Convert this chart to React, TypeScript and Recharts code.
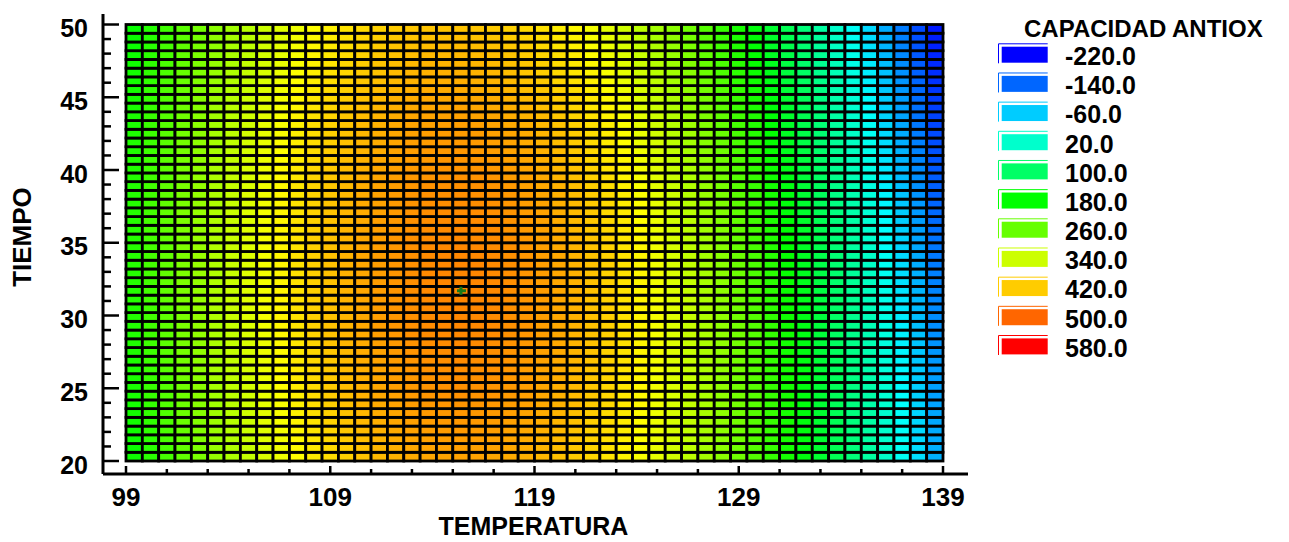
import { Legend, Scatter, ScatterChart, XAxis, YAxis } from 'recharts';

// Centros de las celdas (temperatura en columnas, tiempo en filas)
const temperatura = [
  99.4, 100.2, 101.0, 101.8, 102.6, 103.4, 104.2, 105.0, 105.8, 106.6,
  107.4, 108.2, 109.0, 109.8, 110.6, 111.4, 112.2, 113.0, 113.8, 114.6,
  115.4, 116.2, 117.0, 117.8, 118.6, 119.4, 120.2, 121.0, 121.8, 122.6,
  123.4, 124.2, 125.0, 125.8, 126.6, 127.4, 128.2, 129.0, 129.8, 130.6,
  131.4, 132.2, 133.0, 133.8, 134.6, 135.4, 136.2, 137.0, 137.8, 138.6,
];

const tiempo = [
  20.3, 20.9, 21.5, 22.1, 22.7, 23.3, 23.9, 24.5, 25.1, 25.7,
  26.3, 26.9, 27.5, 28.1, 28.7, 29.3, 29.9, 30.5, 31.1, 31.7,
  32.3, 32.9, 33.5, 34.1, 34.7, 35.3, 35.9, 36.5, 37.1, 37.7,
  38.3, 38.9, 39.5, 40.1, 40.7, 41.3, 41.9, 42.5, 43.1, 43.7,
  44.3, 44.9, 45.5, 46.1, 46.7, 47.3, 47.9, 48.5, 49.1, 49.7,
];

const capacidad: number[][] = [
  [190, 212, 234, 255, 276, 296, 315, 333, 350, 366, 381, 395, 407, 418, 427, 435, 441, 446, 450, 452, 453, 452, 449, 446, 442, 436, 429, 421, 411, 400, 388, 375, 360, 344, 327, 308, 288, 267, 245, 221, 196, 170, 143, 115, 85, 54, 22, -11, -46, -82],
  [188, 212, 235, 257, 278, 298, 317, 335, 352, 368, 383, 397, 409, 420, 429, 437, 443, 448, 452, 454, 455, 454, 452, 448, 444, 438, 431, 423, 413, 402, 390, 377, 362, 345, 328, 309, 289, 268, 246, 222, 196, 170, 143, 115, 84, 53, 21, -12, -47, -83],
  [190, 214, 237, 259, 280, 300, 319, 337, 354, 370, 385, 399, 411, 422, 431, 439, 445, 450, 454, 456, 457, 456, 454, 450, 446, 440, 433, 425, 415, 404, 392, 378, 363, 347, 330, 310, 290, 269, 246, 222, 197, 170, 143, 114, 84, 52, 20, -13, -49, -85],
  [192, 216, 239, 261, 282, 302, 321, 339, 356, 372, 387, 401, 413, 424, 433, 441, 447, 452, 456, 458, 459, 458, 456, 452, 448, 442, 435, 427, 417, 406, 393, 380, 364, 348, 331, 311, 291, 269, 247, 222, 197, 170, 143, 114, 83, 52, 19, -15, -50, -86],
  [193, 217, 240, 262, 283, 303, 322, 340, 357, 373, 388, 402, 415, 426, 435, 443, 449, 454, 458, 460, 461, 460, 458, 454, 450, 444, 437, 429, 418, 407, 395, 381, 366, 349, 332, 312, 292, 270, 247, 222, 197, 170, 142, 113, 82, 51, 18, -16, -51, -88],
  [195, 219, 242, 264, 285, 305, 324, 342, 359, 375, 390, 404, 416, 427, 436, 444, 450, 455, 459, 461, 462, 461, 459, 455, 452, 446, 439, 430, 420, 409, 396, 382, 367, 350, 333, 313, 292, 270, 247, 222, 197, 170, 142, 113, 82, 50, 17, -17, -53, -90],
  [196, 220, 243, 265, 286, 306, 325, 343, 360, 376, 391, 405, 418, 429, 438, 446, 452, 457, 461, 463, 464, 463, 461, 457, 453, 447, 440, 432, 421, 410, 397, 384, 368, 351, 333, 314, 293, 271, 248, 222, 197, 170, 141, 112, 81, 49, 16, -19, -54, -91],
  [198, 222, 245, 267, 288, 308, 327, 345, 362, 378, 393, 407, 420, 431, 440, 448, 454, 459, 463, 465, 466, 465, 463, 459, 455, 449, 441, 433, 423, 411, 398, 385, 369, 352, 334, 314, 293, 271, 248, 222, 197, 169, 141, 111, 80, 48, 14, -20, -56, -93],
  [199, 223, 246, 268, 289, 309, 328, 346, 363, 379, 394, 408, 421, 432, 441, 449, 455, 460, 464, 466, 467, 466, 464, 460, 456, 450, 443, 434, 424, 412, 399, 385, 370, 353, 335, 315, 294, 271, 248, 222, 196, 169, 140, 110, 79, 46, 13, -22, -58, -94],
  [200, 224, 247, 269, 290, 310, 329, 347, 364, 380, 395, 409, 422, 433, 442, 450, 456, 461, 465, 467, 468, 467, 465, 461, 457, 451, 444, 435, 425, 413, 400, 386, 370, 353, 335, 315, 294, 271, 248, 222, 196, 168, 140, 109, 78, 45, 12, -23, -59, -96],
  [201, 225, 248, 270, 291, 311, 330, 348, 365, 381, 396, 410, 423, 434, 443, 451, 457, 462, 466, 468, 469, 468, 466, 462, 458, 452, 445, 436, 426, 414, 401, 387, 371, 354, 335, 315, 294, 271, 247, 222, 196, 168, 139, 109, 77, 44, 10, -25, -61, -98],
  [202, 226, 249, 271, 292, 312, 331, 349, 366, 382, 397, 411, 424, 435, 444, 452, 458, 463, 467, 469, 470, 469, 467, 463, 459, 453, 446, 437, 427, 415, 402, 387, 371, 354, 336, 315, 294, 271, 247, 221, 195, 167, 138, 108, 76, 43, 9, -26, -63, -100],
  [203, 227, 250, 272, 293, 313, 332, 350, 367, 383, 398, 412, 425, 436, 445, 453, 459, 464, 468, 470, 471, 470, 468, 464, 460, 454, 447, 438, 427, 416, 402, 388, 372, 354, 336, 315, 294, 271, 247, 221, 194, 166, 137, 106, 74, 41, 7, -28, -64, -102],
  [204, 228, 251, 273, 294, 314, 333, 351, 368, 384, 399, 413, 426, 437, 446, 454, 460, 465, 469, 471, 472, 471, 469, 465, 461, 455, 447, 439, 428, 416, 403, 388, 372, 354, 336, 315, 294, 271, 246, 220, 194, 166, 136, 105, 73, 40, 6, -30, -66, -104],
  [205, 229, 252, 274, 295, 315, 334, 352, 369, 385, 400, 414, 427, 438, 447, 455, 461, 466, 470, 472, 473, 472, 470, 466, 462, 456, 448, 439, 428, 417, 403, 389, 372, 354, 336, 315, 294, 270, 246, 220, 193, 165, 135, 104, 72, 38, 4, -31, -68, -106],
  [206, 230, 253, 275, 296, 316, 335, 353, 370, 386, 401, 415, 428, 439, 448, 456, 462, 467, 471, 473, 474, 473, 471, 467, 462, 456, 448, 440, 429, 417, 403, 389, 372, 354, 336, 315, 293, 270, 245, 219, 192, 164, 134, 103, 70, 37, 2, -33, -70, -108],
  [207, 231, 254, 276, 297, 317, 336, 354, 371, 387, 402, 416, 428, 439, 448, 456, 462, 467, 471, 473, 474, 473, 471, 467, 462, 457, 449, 440, 429, 417, 403, 389, 372, 354, 335, 315, 293, 269, 245, 218, 191, 163, 133, 101, 69, 35, 1, -35, -72, -110],
  [207, 231, 254, 276, 297, 317, 336, 354, 371, 387, 402, 416, 429, 440, 449, 457, 463, 468, 472, 474, 475, 474, 472, 468, 463, 457, 449, 440, 429, 417, 403, 389, 372, 354, 335, 314, 292, 269, 244, 217, 190, 162, 132, 100, 67, 34, -1, -37, -74, -112],
  [208, 232, 255, 277, 298, 318, 337, 355, 372, 388, 403, 417, 429, 440, 449, 457, 463, 468, 472, 474, 475, 474, 472, 468, 463, 457, 449, 440, 429, 417, 403, 388, 371, 354, 335, 314, 292, 268, 243, 216, 189, 160, 131, 99, 66, 32, -3, -39, -76, -114],
  [208, 232, 255, 277, 298, 318, 337, 355, 372, 388, 403, 417, 429, 440, 449, 457, 463, 468, 472, 474, 475, 474, 472, 468, 463, 457, 449, 440, 429, 417, 403, 388, 371, 353, 334, 313, 291, 267, 242, 215, 188, 159, 129, 97, 64, 30, -5, -41, -78, -116],
  [208, 232, 255, 277, 298, 318, 337, 355, 372, 388, 403, 417, 429, 440, 449, 457, 463, 468, 472, 474, 475, 474, 472, 468, 463, 457, 449, 440, 429, 417, 403, 388, 370, 352, 333, 312, 290, 266, 241, 214, 187, 158, 128, 95, 62, 28, -7, -43, -80, -118],
  [209, 233, 256, 278, 299, 319, 337, 355, 372, 388, 403, 417, 429, 440, 449, 457, 463, 468, 472, 474, 475, 474, 472, 468, 463, 457, 449, 440, 428, 416, 402, 387, 370, 352, 333, 311, 289, 265, 240, 213, 185, 156, 126, 94, 60, 26, -9, -45, -82, -120],
  [209, 233, 256, 278, 299, 319, 338, 355, 372, 388, 403, 417, 429, 440, 449, 457, 463, 468, 472, 474, 475, 474, 472, 468, 462, 456, 448, 439, 428, 416, 402, 386, 369, 351, 332, 310, 288, 264, 239, 211, 184, 155, 124, 92, 59, 24, -11, -47, -85, -123],
  [209, 233, 256, 278, 299, 319, 338, 355, 372, 388, 403, 417, 429, 440, 449, 457, 463, 468, 472, 474, 474, 473, 471, 467, 462, 456, 448, 439, 427, 415, 401, 386, 368, 350, 331, 309, 287, 263, 237, 210, 183, 153, 123, 90, 57, 22, -13, -49, -87, -125],
  [209, 233, 256, 278, 299, 319, 337, 355, 372, 388, 403, 417, 429, 440, 449, 456, 462, 467, 471, 473, 474, 473, 471, 467, 461, 455, 447, 438, 427, 414, 400, 385, 367, 349, 330, 308, 286, 261, 236, 208, 181, 151, 121, 88, 55, 20, -15, -52, -89, -127],
  [209, 233, 256, 278, 299, 318, 337, 355, 372, 388, 403, 417, 428, 439, 448, 456, 462, 467, 471, 473, 473, 472, 470, 466, 461, 455, 446, 437, 426, 414, 399, 384, 366, 348, 328, 307, 284, 260, 234, 207, 179, 150, 119, 86, 53, 18, -17, -54, -91, -130],
  [209, 233, 256, 277, 298, 318, 337, 355, 372, 388, 402, 416, 428, 439, 448, 456, 461, 466, 470, 472, 473, 472, 470, 465, 460, 454, 446, 436, 425, 413, 398, 383, 365, 347, 327, 306, 283, 258, 233, 205, 178, 148, 117, 84, 51, 16, -20, -56, -94, -132],
  [209, 233, 255, 277, 298, 318, 337, 354, 371, 387, 402, 416, 428, 438, 447, 455, 461, 466, 469, 471, 472, 471, 469, 465, 459, 453, 445, 435, 424, 411, 397, 381, 364, 345, 326, 304, 282, 257, 231, 203, 176, 146, 115, 82, 49, 14, -22, -59, -96, -135],
  [208, 232, 255, 277, 298, 317, 336, 354, 371, 387, 401, 415, 427, 438, 446, 454, 460, 465, 469, 470, 471, 470, 468, 464, 458, 452, 444, 434, 423, 410, 396, 380, 362, 344, 324, 303, 280, 255, 229, 201, 174, 144, 113, 80, 46, 12, -24, -61, -99, -137],
  [208, 232, 255, 276, 297, 317, 336, 353, 370, 386, 401, 414, 426, 437, 446, 453, 459, 464, 468, 469, 470, 469, 467, 462, 457, 451, 442, 433, 421, 409, 394, 379, 361, 342, 323, 301, 278, 253, 227, 200, 172, 142, 111, 78, 44, 9, -27, -64, -101, -140],
  [208, 231, 254, 276, 297, 316, 335, 353, 369, 385, 400, 414, 425, 436, 445, 453, 458, 463, 467, 468, 469, 468, 466, 461, 456, 449, 441, 431, 420, 407, 393, 377, 359, 341, 321, 299, 276, 251, 225, 197, 170, 140, 109, 76, 42, 7, -29, -66, -104, -143],
  [207, 231, 254, 275, 296, 316, 334, 352, 369, 384, 399, 413, 424, 435, 444, 451, 457, 462, 466, 467, 468, 467, 464, 460, 454, 448, 440, 430, 418, 406, 391, 375, 358, 339, 319, 297, 274, 249, 223, 195, 168, 138, 107, 73, 39, 4, -32, -69, -107, -145],
  [207, 230, 253, 275, 295, 315, 334, 351, 368, 383, 398, 412, 423, 434, 443, 450, 456, 461, 464, 466, 467, 465, 463, 458, 453, 447, 438, 428, 417, 404, 389, 374, 356, 337, 317, 295, 272, 247, 221, 193, 165, 135, 104, 71, 37, 2, -34, -71, -109, -148],
  [206, 230, 252, 274, 294, 314, 333, 350, 367, 382, 397, 411, 422, 433, 441, 449, 455, 459, 463, 465, 465, 464, 461, 457, 451, 445, 436, 427, 415, 402, 388, 372, 354, 335, 315, 293, 270, 245, 219, 191, 163, 133, 102, 68, 34, -1, -37, -74, -112, -151],
  [205, 229, 251, 273, 293, 313, 332, 349, 366, 381, 396, 409, 421, 432, 440, 448, 453, 458, 461, 463, 464, 462, 460, 455, 450, 443, 434, 425, 413, 400, 386, 370, 352, 333, 313, 291, 268, 243, 217, 189, 161, 131, 99, 66, 32, -3, -40, -77, -115, -154],
  [204, 228, 250, 272, 292, 312, 331, 348, 365, 380, 395, 408, 420, 430, 439, 446, 452, 456, 460, 461, 462, 460, 458, 453, 448, 441, 433, 423, 411, 398, 383, 368, 350, 331, 311, 289, 266, 241, 214, 186, 158, 128, 97, 63, 29, -6, -42, -79, -117, -156],
  [204, 227, 249, 271, 291, 311, 329, 347, 363, 379, 393, 407, 418, 429, 437, 445, 450, 455, 458, 460, 460, 459, 456, 452, 446, 439, 431, 421, 409, 396, 381, 365, 347, 328, 308, 286, 263, 238, 212, 184, 156, 125, 94, 61, 26, -9, -45, -82, -120, -159],
  [203, 226, 248, 270, 290, 310, 328, 346, 362, 377, 392, 405, 417, 427, 436, 443, 448, 453, 456, 458, 458, 457, 454, 450, 444, 437, 428, 419, 407, 394, 379, 363, 345, 326, 306, 284, 261, 236, 209, 181, 153, 123, 91, 58, 24, -12, -48, -85, -123, -162],
  [201, 225, 247, 269, 289, 308, 327, 344, 361, 376, 390, 404, 415, 426, 434, 441, 447, 451, 454, 456, 456, 455, 452, 447, 442, 435, 426, 416, 404, 392, 377, 360, 342, 323, 303, 281, 258, 233, 207, 178, 150, 120, 89, 55, 21, -14, -51, -88, -126, -165],
  [200, 224, 246, 267, 288, 307, 325, 343, 359, 374, 389, 402, 413, 424, 432, 439, 445, 449, 452, 454, 454, 452, 450, 445, 439, 433, 424, 414, 402, 389, 374, 358, 340, 321, 301, 279, 255, 230, 204, 176, 147, 117, 86, 52, 18, -17, -54, -91, -129, -168],
  [199, 222, 245, 266, 286, 306, 324, 341, 357, 373, 387, 400, 412, 422, 430, 437, 443, 447, 450, 452, 452, 450, 447, 443, 437, 430, 421, 411, 399, 386, 371, 355, 337, 318, 298, 276, 253, 227, 201, 173, 145, 114, 83, 49, 15, -20, -57, -94, -132, -171],
  [198, 221, 243, 265, 285, 304, 322, 339, 356, 371, 385, 398, 410, 420, 428, 435, 441, 445, 448, 449, 450, 448, 445, 440, 434, 428, 419, 409, 397, 384, 369, 352, 334, 315, 295, 273, 250, 224, 198, 170, 142, 111, 80, 46, 12, -23, -60, -97, -135, -174],
  [196, 220, 242, 263, 283, 302, 321, 338, 354, 369, 383, 396, 408, 418, 426, 433, 438, 443, 446, 447, 447, 445, 442, 438, 432, 425, 416, 406, 394, 381, 366, 350, 331, 312, 292, 270, 247, 221, 195, 167, 138, 108, 77, 43, 9, -26, -63, -100, -138, -177],
  [195, 218, 240, 261, 282, 301, 319, 336, 352, 367, 381, 394, 406, 416, 424, 431, 436, 440, 443, 444, 444, 443, 440, 435, 429, 422, 413, 403, 391, 378, 363, 346, 328, 309, 289, 267, 244, 218, 192, 164, 135, 105, 74, 40, 6, -30, -66, -103, -141, -181],
  [194, 217, 239, 260, 280, 299, 317, 334, 350, 365, 379, 392, 403, 413, 421, 428, 434, 438, 441, 442, 442, 440, 437, 432, 426, 419, 410, 400, 388, 375, 360, 343, 325, 306, 286, 264, 240, 215, 189, 160, 132, 102, 70, 37, 3, -33, -69, -106, -145, -184],
  [192, 215, 237, 258, 278, 297, 315, 332, 348, 363, 377, 390, 401, 411, 419, 426, 431, 435, 438, 439, 439, 437, 434, 429, 423, 416, 407, 397, 385, 372, 356, 340, 322, 303, 282, 260, 237, 212, 185, 157, 129, 98, 67, 34, -1, -36, -72, -110, -148, -187],
  [190, 213, 235, 256, 276, 295, 313, 330, 346, 361, 375, 388, 399, 408, 416, 423, 428, 432, 435, 436, 436, 434, 431, 426, 420, 413, 404, 393, 381, 368, 353, 337, 318, 299, 279, 257, 234, 208, 182, 154, 125, 95, 64, 30, -4, -39, -76, -113, -151, -190],
  [188, 211, 233, 254, 274, 293, 311, 328, 344, 358, 372, 385, 396, 406, 414, 421, 426, 429, 432, 433, 433, 431, 428, 423, 417, 409, 400, 390, 378, 365, 349, 333, 315, 296, 276, 253, 230, 205, 178, 150, 122, 92, 60, 27, -7, -43, -79, -116, -154, -194],
  [187, 209, 231, 252, 272, 291, 309, 325, 341, 356, 370, 383, 393, 403, 411, 418, 423, 426, 429, 430, 430, 428, 425, 419, 413, 406, 397, 387, 374, 361, 346, 330, 311, 292, 272, 250, 226, 201, 175, 147, 118, 88, 57, 24, -11, -46, -82, -120, -158, -197],
  [185, 208, 229, 250, 270, 289, 306, 323, 339, 354, 367, 380, 391, 401, 408, 415, 420, 424, 426, 427, 427, 425, 421, 416, 410, 403, 393, 383, 371, 358, 342, 326, 308, 289, 268, 246, 223, 198, 171, 143, 115, 85, 53, 20, -14, -50, -86, -123, -161, -201],
];

const nivelesLeyenda = [-220, -140, -60, 20, 100, 180, 260, 340, 420, 500, 580];

const ticksTemperatura = [99, 101, 103, 105, 107, 109, 111, 113, 115, 117, 119, 121, 123, 125, 127, 129, 131, 133, 135, 137, 139];
const etiquetasTemperatura = [99, 109, 119, 129, 139];
const ticksTiempo = [20, 21, 22, 23, 24, 25, 26, 27, 28, 29, 30, 31, 32, 33, 34, 35, 36, 37, 38, 39, 40, 41, 42, 43, 44, 45, 46, 47, 48, 49, 50];
const etiquetasTiempo = [20, 25, 30, 35, 40, 45, 50];

// punto óptimo marcado con la cruz verde
const optimoTemperatura = [115.4];
const optimoTiempo = [31.7];

const ANCHO = 1289;
const ALTO = 542;
const AREA = { left: 103, top: 14, right: 968, bottom: 474 };
const DOMINIO_X: [number, number] = [97.874, 140.224];
const DOMINIO_Y: [number, number] = [19.107, 50.722];
const FUENTE = '"Liberation Sans", Arial, Helvetica, sans-serif';
const ALTO_EJE_X = 66;
const ANCHO_EJE_Y = 95;

const CELDA_W =
  ((AREA.right - AREA.left) / (DOMINIO_X[1] - DOMINIO_X[0])) * (temperatura[1] - temperatura[0]);
const CELDA_H =
  ((AREA.bottom - AREA.top) / (DOMINIO_Y[1] - DOMINIO_Y[0])) * (tiempo[1] - tiempo[0]);

const colorValor = (v: number) => {
  const h = Math.max(0, Math.min(240, 240 - (v + 220) * 0.3));
  return `hsl(${h}, 100%, 50%)`;
};

const celdas = tiempo.flatMap((t, i) =>
  temperatura.map((temp, j) => ({ temperatura: temp, tiempo: t, valor: capacidad[i][j] })),
);

const optimo = optimoTemperatura.map((temp, i) => ({ temperatura: temp, tiempo: optimoTiempo[i] }));

const CeldaShape = (props: any) => {
  const { cx, cy, payload } = props;
  return (
    <rect
      x={cx - CELDA_W / 2}
      y={cy - CELDA_H / 2}
      width={CELDA_W}
      height={CELDA_H}
      fill={colorValor(payload.valor)}
      stroke="#000"
      strokeWidth={2.8}
    />
  );
};

const CruzShape = (props: any) => {
  const { cx, cy } = props;
  return (
    <g stroke="#197a19" strokeWidth={3}>
      <line x1={cx - 4} y1={cy} x2={cx + 5} y2={cy} />
      <line x1={cx} y1={cy - 4} x2={cx} y2={cy + 4} />
    </g>
  );
};

const texto = (size: number) => ({ fontFamily: FUENTE, fontWeight: 700, fontSize: size, fill: '#000' });

const TickInferior = ({ x, y, payload }: any) => {
  const mayor = etiquetasTemperatura.includes(payload.value);
  return (
    <g>
      <line x1={x} y1={y} x2={x} y2={y - (mayor ? 8 : 5)} stroke="#000" strokeWidth={2.5} />
      {mayor && (
        <text x={x} y={y + 32} textAnchor="middle" {...texto(26)}>
          {payload.value}
        </text>
      )}
    </g>
  );
};

const TickSuperior = ({ x, y, payload }: any) => {
  const mayor = etiquetasTemperatura.includes(payload.value);
  return <line x1={x} y1={y} x2={x} y2={y + (mayor ? 7 : 5)} stroke="#000" strokeWidth={2.5} />;
};

const TickIzquierdo = ({ x, y, payload }: any) => {
  const mayor = etiquetasTiempo.includes(payload.value);
  return (
    <g>
      <line x1={x} y1={y} x2={x + (mayor ? 16 : 8)} y2={y} stroke="#000" strokeWidth={2.5} />
      {mayor && (
        <text x={x - 15} y={y + 12.5} textAnchor="end" {...texto(25)}>
          {payload.value}
        </text>
      )}
    </g>
  );
};

const TickDerecho = ({ x, y, payload }: any) => {
  const mayor = etiquetasTiempo.includes(payload.value);
  return <line x1={x} y1={y} x2={x - (mayor ? 16 : 9)} y2={y} stroke="#000" strokeWidth={2.5} />;
};

const Leyenda = () => (
  <svg width={299} height={380} style={{ display: 'block' }}>
    <text x={34} y={37} {...texto(24)}>
      CAPACIDAD ANTIOX
    </text>
    {nivelesLeyenda.map((nivel, i) => {
      const y0 = 43.3 + i * 29.17;
      const c = colorValor(nivel);
      return (
        <g key={nivel}>
          <polyline
            points={`8.5,${y0 + 20} 8.5,${y0 + 0.5} 57.7,${y0 + 0.5}`}
            fill="none"
            stroke={c}
            strokeWidth={1}
          />
          <rect x={11.7} y={y0 + 3.4} width={46} height={16} fill={c} />
          <text x={75} y={y0 + 21.7} {...texto(25)}>
            {nivel.toFixed(1)}
          </text>
        </g>
      );
    })}
  </svg>
);

const ejeLinea = { stroke: '#000', strokeWidth: 3 };

export default function App() {
  return (
    <div style={{ position: 'absolute', left: 0, top: 0, width: ANCHO, height: ALTO, background: '#fff' }}>
      <ScatterChart
        width={ANCHO}
        height={ALTO}
        margin={{
          top: AREA.top,
          right: ANCHO - AREA.right,
          bottom: ALTO - AREA.bottom - ALTO_EJE_X,
          left: AREA.left - ANCHO_EJE_Y,
        }}
      >
        <XAxis
          type="number"
          dataKey="temperatura"
          domain={DOMINIO_X}
          allowDataOverflow
          ticks={ticksTemperatura}
          interval={0}
          height={ALTO_EJE_X}
          tickSize={0}
          tickMargin={0}
          tickLine={false}
          axisLine={ejeLinea}
          tick={<TickInferior />}
          label={{
            content: ({ viewBox }: any) => (
              <text
                x={viewBox.x + viewBox.width / 2 - 2}
                y={viewBox.y + 61}
                textAnchor="middle"
                {...texto(25)}
              >
                TEMPERATURA
              </text>
            ),
          }}
        />
        <XAxis
          xAxisId="sup"
          orientation="top"
          type="number"
          domain={DOMINIO_X}
          allowDataOverflow
          ticks={ticksTemperatura}
          interval={0}
          height={0}
          tickSize={0}
          tickMargin={0}
          tickLine={false}
          axisLine={ejeLinea}
          tick={<TickSuperior />}
        />
        <YAxis
          type="number"
          dataKey="tiempo"
          domain={DOMINIO_Y}
          allowDataOverflow
          ticks={ticksTiempo}
          interval={0}
          width={ANCHO_EJE_Y}
          tickSize={0}
          tickMargin={0}
          tickLine={false}
          axisLine={ejeLinea}
          tick={<TickIzquierdo />}
          label={{
            content: ({ viewBox }: any) => {
              const cx = viewBox.x + 23;
              const cy = viewBox.y + viewBox.height / 2 - 7;
              return (
                <text
                  x={cx}
                  y={cy}
                  textAnchor="middle"
                  transform={`rotate(-90 ${cx} ${cy})`}
                  {...texto(26)}
                >
                  TIEMPO
                </text>
              );
            },
          }}
        />
        <YAxis
          yAxisId="der"
          orientation="right"
          type="number"
          domain={DOMINIO_Y}
          allowDataOverflow
          ticks={ticksTiempo}
          interval={0}
          width={0}
          tickSize={0}
          tickMargin={0}
          tickLine={false}
          axisLine={ejeLinea}
          tick={<TickDerecho />}
        />
        <Legend
          layout="vertical"
          align="center"
          verticalAlign="middle"
          wrapperStyle={{ left: 990, top: 0, width: 299, height: 380 }}
          content={() => <Leyenda />}
        />
        <Scatter data={celdas} shape={<CeldaShape />} isAnimationActive={false} />
        <Scatter data={optimo} shape={<CruzShape />} isAnimationActive={false} />
      </ScatterChart>
    </div>
  );
}
